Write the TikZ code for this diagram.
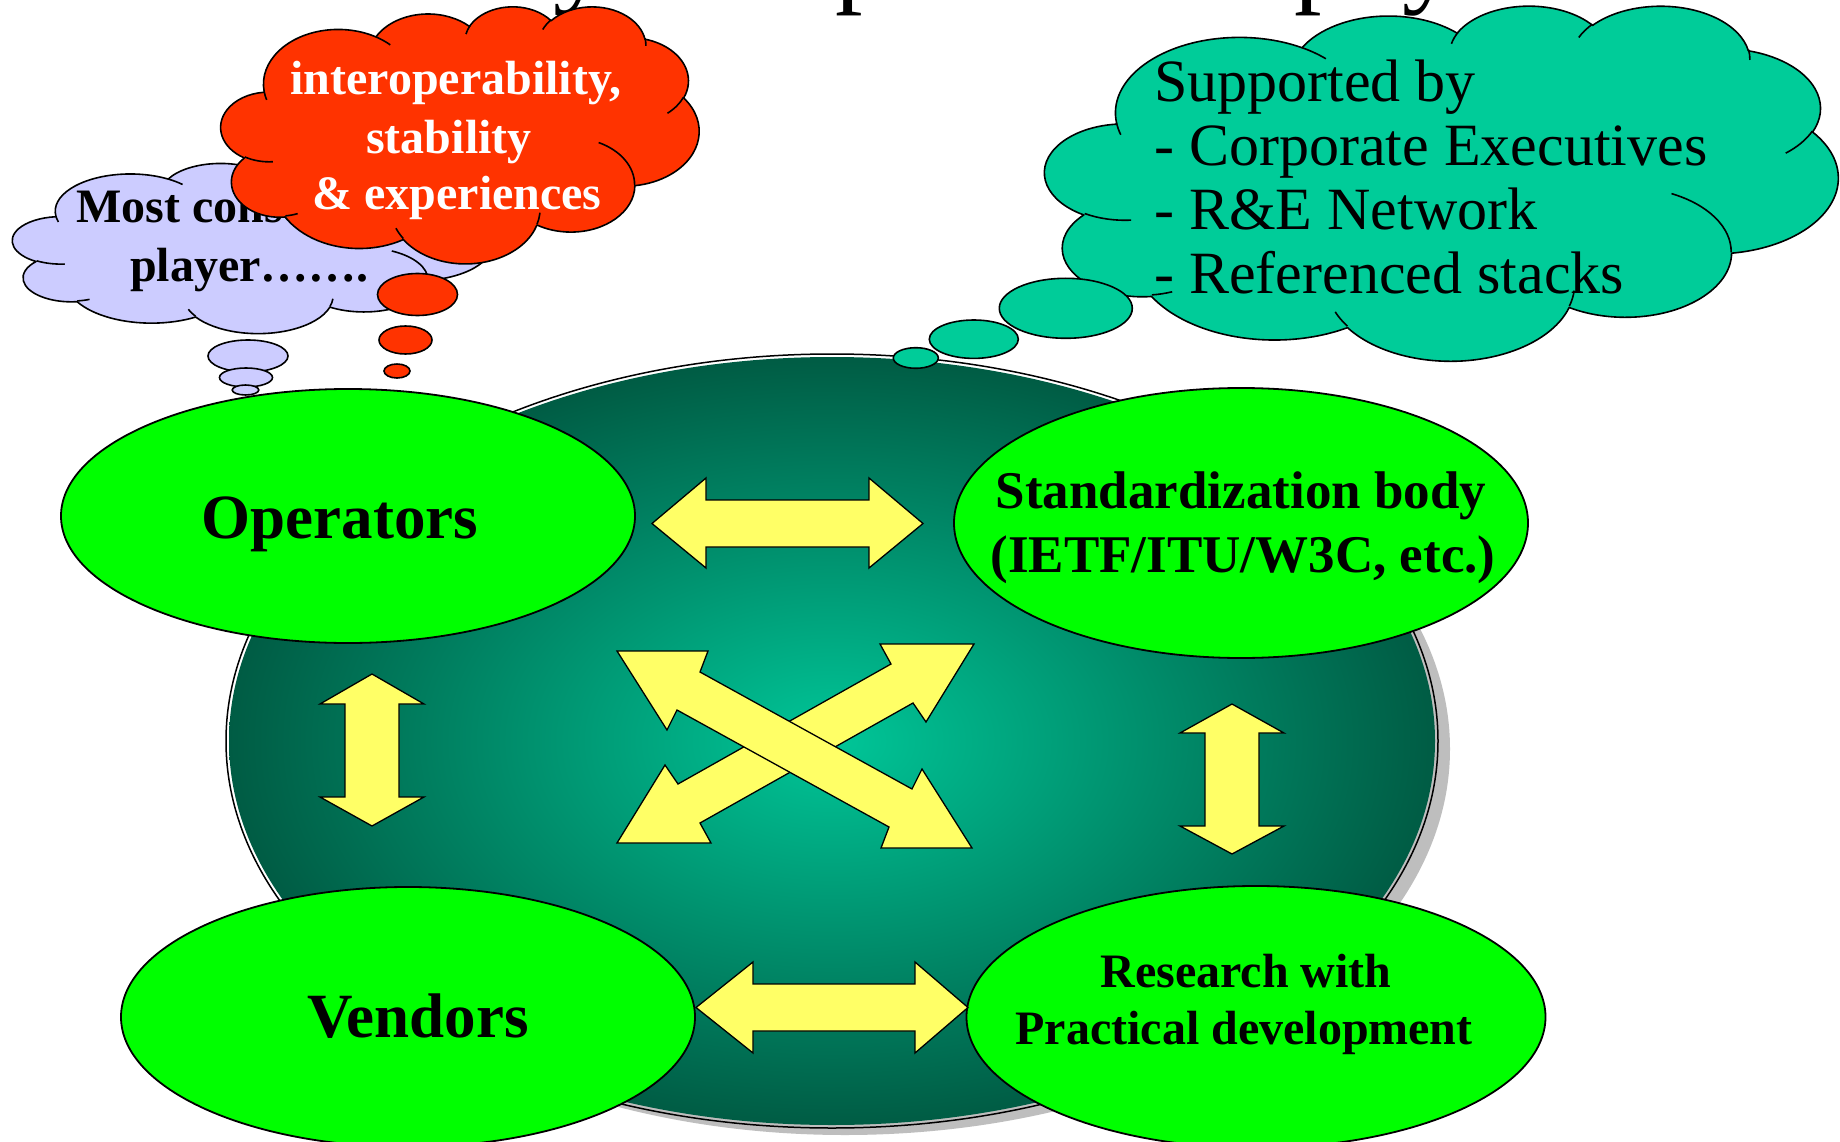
\documentclass[tikz,border=0pt]{standalone}
\usepackage{fontspec}
\setmainfont{Liberation Serif}
\usetikzlibrary{shapes.geometric}
\definecolor{cgreen}{RGB}{0,255,0}
\definecolor{cyell}{RGB}{255,255,102}
\definecolor{cred}{RGB}{255,51,0}
\definecolor{clav}{RGB}{204,204,255}
\definecolor{cteal}{RGB}{0,204,153}
\definecolor{ccorein}{RGB}{0,198,152}
\definecolor{ccoreout}{RGB}{0,92,68}
\definecolor{cshadow}{RGB}{190,190,190}
\tikzset{
  ooarc/.style n args={4}{insert path={arc[x radius=#1pt, y radius=#2pt, start angle={pa(#3,#1,#2)}, delta angle={mod(pa(#3+#4,#1,#2)-pa(#3,#1,#2)+720,360)}]}},
  blob/.style={ellipse, draw=black, line width=1.8pt, fill=cgreen, inner sep=0pt},
  arrowbox/.style={fill=cyell, draw=black, line width=1.3pt, line join=miter},
  bubble/.style={draw=black, line width=1.6pt},
  bigtxt/.style={inner sep=0pt, anchor=base, font=\fontsize{63}{70}\selectfont\bfseries},
  stdtxt/.style={inner sep=0pt, anchor=base, font=\fontsize{53}{64}\selectfont\bfseries},
  midtxt/.style={inner sep=0pt, anchor=base, font=\fontsize{48}{58}\selectfont\bfseries},
  cloudtxt/.style={inner sep=0pt, anchor=base west, font=\fontsize{60}{64}\selectfont},
  titletxt/.style={inner sep=0pt, anchor=base west, font=\fontsize{110}{110}\selectfont},
}
\newcommand\drawcloud[5]{%
  \begin{scope}[shift={(#1,#2)}, x=1pt, y=1pt, xscale=#3/432, yscale=-#4/432]
    \path[fill=#5, draw=black, line width=1.6pt, line join=round]
      (39.00,143.70) [ooarc={67.53}{91.90}{-190.4875}{123.7805}]
      [ooarc={53.33}{72.67}{-144.1024}{89.9452}]
      [ooarc={43.65}{59.45}{-145.8079}{99.7230}]
      [ooarc={48.57}{65.95}{-130.9861}{117.2417}]
      [ooarc={53.33}{72.73}{-78.7089}{109.0269}]
      [ooarc={67.75}{92.20}{-46.2673}{130.2690}]
      [ooarc={57.85}{78.67}{0.6250}{114.0333}]
      [ooarc={67.52}{92.15}{22.4516}{115.1726}]
      [ooarc={77.20}{105.43}{66.2426}{75.7110}]
      [ooarc={43.60}{59.18}{-274.9421}{146.7356}]
      [ooarc={43.45}{59.45}{-246.8285}{152.5189}]
      -- cycle;
    \draw[line width=1.6pt]
      (46.93,261.77) [ooarc={43.45}{59.45}{86.7420}{26.4295}]
      (69.28,348.99) [ooarc={43.60}{59.18}{73.6105}{11.4475}]
      (164.78,390.90) [ooarc={67.52}{92.15}{137.6242}{14.0811}]
      (288.27,347.51) [ooarc={67.52}{92.15}{6.4533}{15.9984}]
      (341.29,229.54) [ooarc={57.85}{78.67}{-70.2924}{70.9174}]
      (417.98,153.54) [ooarc={53.33}{72.73}{30.3180}{27.7515}]
      (383.24,54.26) [ooarc={48.57}{65.95}{-13.7443}{14.8589}]
      (290.78,39.52) [ooarc={48.57}{65.95}{-149.1815}{18.1954}]
      (221.41,47.20) [ooarc={43.65}{59.45}{-163.4943}{17.6864}]
      (140.00,51.92) [ooarc={67.53}{91.90}{-66.7070}{12.3194}]
      (41.27,157.89) [ooarc={67.53}{91.90}{157.6544}{11.8582}];
  \end{scope}}
\begin{document}
\begin{tikzpicture}[x=1pt, y=-1pt,
  declare function={pa(\a,\w,\h)=atan2(\w*sin(\a),\h*cos(\a));}]
\useasboundingbox (0,0) rectangle (1840,1142);
\fill[white] (0,0) rectangle (1840,1142);

% cut-off title glyphs (only their descenders reach into the picture)
\node[titletxt] (ttl1) at (553,-7.5) {y};
\node[titletxt] (ttl2) at (835,-7.5) {p};
\node[titletxt] (ttl3) at (1294,-7.5) {p};
\node[titletxt] (ttl4) at (1402,-7.5) {y};

% central shaded ellipse with shadow
\node[ellipse, inner sep=0pt, fill=cshadow, minimum width=1210pt, minimum height=772pt] (coreshadow) at (845,749) {};
\node[ellipse, inner sep=0pt, minimum width=1206pt, minimum height=768pt, inner color=ccorein, outer color=ccoreout] (coreshade) at (832,741) {};
\node[ellipse, inner sep=0pt, draw=black, line width=1.5pt, minimum width=1212pt, minimum height=774pt] (core) at (832,741) {};

% four player ellipses
\node[blob, minimum width=574pt, minimum height=254pt] (op) at (348,516) {};
\node[blob, minimum width=574pt, minimum height=270pt] (std) at (1241,523) {};
\node[blob, minimum width=574pt, minimum height=260pt] (ven) at (408,1017) {};
\node[blob, minimum width=579pt, minimum height=262pt] (res) at (1256,1017) {};

\node[bigtxt] (optxt) at (340,538) {Operators};
\node[bigtxt] (ventxt) at (418,1037) {Vendors};
\node[stdtxt] (stdtxta) at (1241,508) {Standardization body};
\node[stdtxt] (stdtxtb) at (1243,572) {(IETF/ITU/W3C, etc.)};
\node[midtxt] (restxta) at (1246,987) {Research with};
\node[midtxt] (restxtb) at (1244,1044) {Practical development};

% block arrows
\draw[arrowbox] (652,523.5) -- (706,478) -- (706,500) -- (869,500) -- (869,478) -- (923,523.5)
  -- (869,568) -- (869,547) -- (706,547) -- (706,568) -- cycle;
\draw[arrowbox] (696,1007.5) -- (753,962) -- (753,984) -- (915,984) -- (915,962) -- (968,1007.5)
  -- (915,1053) -- (915,1031) -- (753,1031) -- (753,1053) -- cycle;
\draw[arrowbox] (372,674) -- (424,704) -- (399,704) -- (399,797) -- (424,797) -- (372,826)
  -- (320,797) -- (345,797) -- (345,704) -- (320,704) -- cycle;
\draw[arrowbox] (1232,704) -- (1284,733) -- (1259,733) -- (1259,826) -- (1284,826) -- (1232,854)
  -- (1180,826) -- (1205,826) -- (1205,733) -- (1180,733) -- cycle;
% crossing arrows
\draw[arrowbox] (974,644) -- (880,644) -- (891,664) -- (678,784) -- (665,765) -- (617,843)
  -- (711,843) -- (700,823) -- (913,703) -- (926,722) -- cycle;
\draw[arrowbox] (617,651) -- (708,651) -- (700,672) -- (912,789) -- (922,769) -- (972,848)
  -- (881,848) -- (889,827) -- (677,710) -- (667,730) -- cycle;

% lavender thought cloud
\drawcloud{12.6}{158}{480}{175}{clav}
\node[inner sep=0pt, anchor=base west, font=\fontsize{48}{58}\selectfont\bfseries] (lav1) at (76,223) {Most conservative};
\node[inner sep=0pt, anchor=base west, font=\fontsize{48}{58}\selectfont\bfseries] (lav2) at (130,282) {player…….};
\draw[bubble, fill=clav] (248,356) ellipse [x radius=40pt, y radius=16pt];
\draw[bubble, fill=clav] (246,377.5) ellipse [x radius=26.5pt, y radius=9.5pt];
\draw[bubble, fill=clav] (245.5,390) ellipse [x radius=13.3pt, y radius=5pt];

% red thought cloud
\drawcloud{221}{6}{478}{257}{cred}
\node[midtxt, text=white] (red1) at (456,95) {interoperability,};
\node[midtxt, text=white] (red2) at (449,154) {stability};
\node[midtxt, text=white] (red3) at (457,210) {\& experiences};
\draw[bubble, fill=cred] (417.5,294.5) ellipse [x radius=40pt, y radius=21pt];
\draw[bubble, fill=cred] (405.5,340) ellipse [x radius=26.5pt, y radius=14pt];
\draw[bubble, fill=cred] (397,371) ellipse [x radius=13pt, y radius=7pt];

% green thought cloud
\drawcloud{1045}{5}{793}{355}{cteal}
\node[cloudtxt] (gr1) at (1154,102) {Supported by};
\node[cloudtxt] (gr2) at (1154,166) {- Corporate Executives};
\node[cloudtxt] (gr3) at (1154,230) {- R\&E Network};
\node[cloudtxt] (gr4) at (1154,294) {- Referenced stacks};
\draw[bubble, fill=cteal] (1065.8,308.3) ellipse [x radius=66.5pt, y radius=30pt];
\draw[bubble, fill=cteal] (973.8,339.2) ellipse [x radius=44.5pt, y radius=19.2pt];
\draw[bubble, fill=cteal] (915.8,358) ellipse [x radius=22.5pt, y radius=10.3pt];
\end{tikzpicture}
\end{document}
